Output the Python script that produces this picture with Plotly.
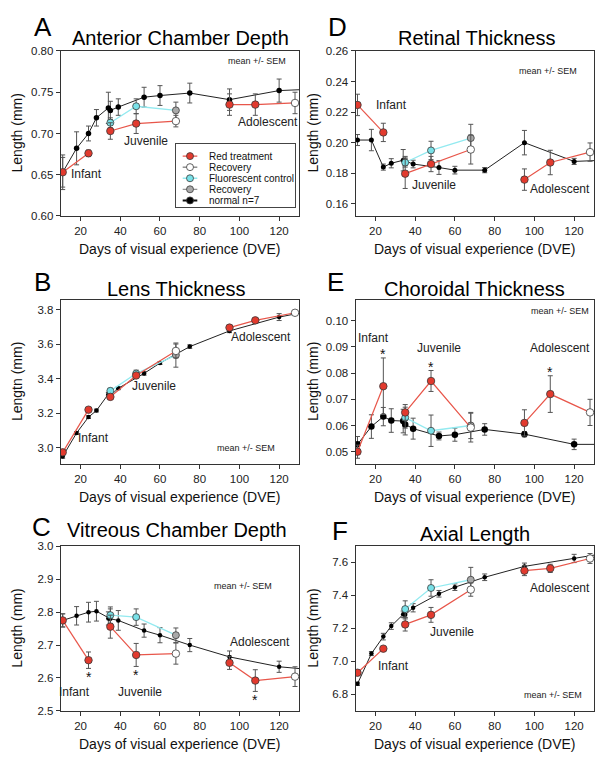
import plotly.graph_objects as go

# ---------------- data ----------------
days_normal = [11, 18, 24, 28, 34, 35, 39, 52, 60, 75, 95, 120, 135]
days_red = [11, 24, 35, 48, 68, 95, 108, 128]
days_fluor = [35, 48, 68]

# A: Anterior chamber depth
acd_normal = [0.653, 0.682, 0.700, 0.719, 0.731, 0.728, 0.732, 0.744, 0.746, 0.749, 0.741, 0.752, 0.7535]
acd_normal_sem = [0.021, 0.020, 0.009, 0.010, 0.019, 0.011, 0.010, 0.012, 0.012, 0.012, 0.013, 0.014, 0.012]
acd_red = [0.653, 0.676, 0.703, 0.712, 0.715, 0.735, 0.735, 0.737]
acd_red_sem = [0.018, 0.004, 0.010, 0.012, 0.007, 0.013, 0.013, 0.013]
acd_fluor = [0.713, 0.733, 0.728]
acd_fluor_sem = [0.006, 0.009, 0.010]

# D: Retinal thickness
rt_normal = [0.2017, 0.2017, 0.184, 0.1865, 0.1885, 0.188, 0.186, 0.1837, 0.182, 0.182, 0.200, 0.1877, 0.1885]
rt_normal_sem = [0.0036, 0.007, 0.002, 0.003, 0.007, 0.003, 0.0025, 0.0045, 0.0025, 0.0017, 0.008, 0.002, 0.002]
rt_red = [0.2247, 0.2067, 0.1797, 0.186, 0.1955, 0.1758, 0.187, 0.1938]
rt_red_sem = [0.007, 0.006, 0.0097, 0.005, 0.0095, 0.007, 0.008, 0.006]
rt_fluor = [0.187, 0.1949, 0.203]
rt_fluor_sem = [0.003, 0.006, 0.009]

# B: Lens thickness
lt_normal = [2.949, 3.085, 3.177, 3.215, 3.31, 3.30, 3.344, 3.43, 3.49, 3.585, 3.676, 3.756, 3.79]
lt_normal_sem = [0.01, 0.008, 0.008, 0.008, 0.01, 0.01, 0.008, 0.01, 0.008, 0.01, 0.01, 0.02, 0.01]
lt_red = [2.973, 3.22, 3.294, 3.418, 3.56, 3.695, 3.737, 3.781]
lt_red_sem = [0.01, 0.01, 0.015, 0.01, 0.04, 0.01, 0.01, 0.01]
lt_fluor = [3.329, 3.429, 3.536]
lt_fluor_sem = [0.015, 0.02, 0.07]

# E: Choroidal thickness
ct_normal = [0.0528, 0.0596, 0.0634, 0.0619, 0.0617, 0.0604, 0.0588, 0.056, 0.0565, 0.0585, 0.0567, 0.0528, 0.0528]
ct_normal_sem = [0.003, 0.0045, 0.0035, 0.0045, 0.0045, 0.004, 0.004, 0.0015, 0.0025, 0.0022, 0.001, 0.002, 0.002]
ct_red = [0.050, 0.075, 0.065, 0.077, 0.0592, 0.061, 0.072, 0.065]
ct_red_sem = [0.0025, 0.0108, 0.003, 0.004, 0.0055, 0.005, 0.007, 0.005]
ct_fluor = [0.063, 0.058, 0.060]
ct_fluor_sem = [0.004, 0.006, 0.005]

# C: Vitreous chamber depth
vcd_normal = [2.775, 2.789, 2.80, 2.803, 2.781, 2.78, 2.775, 2.744, 2.73, 2.70, 2.664, 2.634, 2.626]
vcd_normal_sem = [0.02, 0.028, 0.03, 0.03, 0.02, 0.03, 0.03, 0.02, 0.023, 0.02, 0.018, 0.017, 0.017]
vcd_red = [2.775, 2.654, 2.756, 2.67, 2.674, 2.646, 2.592, 2.604]
vcd_red_sem = [0.02, 0.025, 0.035, 0.035, 0.032, 0.02, 0.033, 0.03]
vcd_fluor = [2.791, 2.785, 2.730]
vcd_fluor_sem = [0.025, 0.025, 0.022]

# F: Axial length
al_normal = [6.864, 7.047, 7.15, 7.214, 7.285, 7.282, 7.325, 7.41, 7.45, 7.51, 7.576, 7.624, 7.654]
al_normal_sem = [0.01, 0.012, 0.02, 0.02, 0.02, 0.025, 0.025, 0.02, 0.02, 0.02, 0.02, 0.025, 0.02]
al_red = [6.931, 7.077, 7.224, 7.282, 7.435, 7.55, 7.564, 7.624]
al_red_sem = [0.015, 0.01, 0.04, 0.045, 0.04, 0.03, 0.025, 0.03]
al_fluor = [7.317, 7.445, 7.495]
al_fluor_sem = [0.05, 0.05, 0.075]

red_segments = [[0, 1], [2, 3, 4], [5, 6, 7]]
red_recovery = [4, 7]
fluor_recovery = [2]
star_idx = [1, 3, 6]

legend_labels = ["Red treatment", "Recovery", "Fluorescent control", "Recovery", "normal n=7"]
stage_labels = ["Infant", "Juvenile", "Adolescent"]
x_ticks = [20, 40, 60, 80, 100, 120]

# ---------------- style ----------------
W, H = 604, 769
FONT = "Arial, Liberation Sans, Helvetica, sans-serif"
RED = "#e23a2e"
RED_LINE = "#e8564a"
CYAN = "#79e1e8"
CYAN_LINE = "#93eaf0"
GRAY = "#a9a9a9"
EDGE = "#3a3a3a"
ERR = "#555555"


def px_x(p):
    return p / W


def px_y(p):
    return 1 - p / H


LEFT = [px_x(60.7), px_x(299)]
RIGHT = [px_x(355.5), px_x(594)]
ROWS = [[px_y(213.3), px_y(45.7)], [px_y(465), px_y(299)], [px_y(716), px_y(549)]]

panels = [
    dict(title="Anterior Chamber Depth", letter="A", ylab="Length (mm)",
         n=acd_normal, ns=acd_normal_sem, r=acd_red, rs=acd_red_sem, f=acd_fluor, fs=acd_fluor_sem,
         yr=[0.60, 0.80], yt=[0.60, 0.65, 0.70, 0.75, 0.80], fmt=".2f", xd=LEFT, yd=ROWS[0], ms=5.5,
         letter_px=(43, 21), title_px=(180, 32),
         labels_px=[(86, 171), (146, 137), (268, 118)], mean_px=(257, 56), stars=None),
    dict(title="Retinal Thickness", letter="D", ylab="Length (mm)",
         n=rt_normal, ns=rt_normal_sem, r=rt_red, rs=rt_red_sem, f=rt_fluor, fs=rt_fluor_sem,
         yr=[0.152, 0.26], yt=[0.16, 0.18, 0.20, 0.22, 0.24, 0.26], fmt=".2f", xd=RIGHT, yd=ROWS[0], ms=5,
         letter_px=(337, 21), title_px=(476, 32),
         labels_px=[(391, 101), (434, 182), (560, 186)], mean_px=(548, 66), stars=None),
    dict(title="Lens Thickness", letter="B", ylab="Lengtn (mm)",
         n=lt_normal, ns=lt_normal_sem, r=lt_red, rs=lt_red_sem, f=lt_fluor, fs=lt_fluor_sem,
         yr=[2.907, 3.853], yt=[3.0, 3.2, 3.4, 3.6, 3.8], fmt=".1f", xd=LEFT, yd=ROWS[1], ms=4.5,
         letter_px=(42, 280), title_px=(176, 287),
         labels_px=[(93, 439), (154, 386), (261, 336)], mean_px=(246, 449), stars=None),
    dict(title="Choroidal Thickness", letter="E", ylab="Length (mm)",
         n=ct_normal, ns=ct_normal_sem, r=ct_red, rs=ct_red_sem, f=ct_fluor, fs=ct_fluor_sem,
         yr=[0.0454, 0.1078], yt=[0.05, 0.06, 0.07, 0.08, 0.09, 0.10], fmt=".2f", xd=RIGHT, yd=ROWS[1], ms=6.5,
         letter_px=(335, 280), title_px=(474, 287),
         labels_px=[(373, 337), (439, 347), (560, 347)], mean_px=(560, 310), stars="above"),
    dict(title="Vitreous Chamber Depth", letter="C", ylab="Length (mm)",
         n=vcd_normal, ns=vcd_normal_sem, r=vcd_red, rs=vcd_red_sem, f=vcd_fluor, fs=vcd_fluor_sem,
         yr=[2.5, 3.0], yt=[2.5, 2.6, 2.7, 2.8, 2.9, 3.0], fmt=".1f", xd=LEFT, yd=ROWS[2], ms=4.5,
         letter_px=(41, 529), title_px=(177, 532),
         labels_px=[(74, 697), (140, 697), (260, 646)], mean_px=(243, 589), stars="below"),
    dict(title="Axial Length", letter="F", ylab="Length (mm)",
         n=al_normal, ns=al_normal_sem, r=al_red, rs=al_red_sem, f=al_fluor, fs=al_fluor_sem,
         yr=[6.70, 7.697], yt=[6.8, 7.0, 7.2, 7.4, 7.6], fmt=".1f", xd=RIGHT, yd=ROWS[2], ms=4.5,
         letter_px=(340, 533), title_px=(475, 536),
         labels_px=[(393, 670), (452, 636), (560, 591)], mean_px=(553, 700), stars=None),
]

fig = go.Figure()
annotations = []
layout = {}


def err(arr, color=ERR):
    return dict(type="data", array=arr, visible=True, color=color, thickness=1, width=2.5)


for i, p in enumerate(panels):
    k = i + 1
    xa = "x" if k == 1 else f"x{k}"
    ya = "y" if k == 1 else f"y{k}"
    xkey = "xaxis" if k == 1 else f"xaxis{k}"
    ykey = "yaxis" if k == 1 else f"yaxis{k}"
    axis_common = dict(showline=True, linecolor="#333", linewidth=1, mirror=True,
                       ticks="outside", ticklen=4, tickcolor="#333", showgrid=False,
                       zeroline=False, tickfont=dict(family=FONT, size=11.5, color="#222"))
    layout[xkey] = dict(domain=p["xd"], anchor=ya, range=[10, 130], tickvals=x_ticks, **axis_common)
    layout[ykey] = dict(domain=p["yd"], anchor=xa, range=p["yr"], tickvals=p["yt"],
                        tickformat=p["fmt"], **axis_common)

    # normal
    fig.add_trace(go.Scatter(x=days_normal, y=p["n"], xaxis=xa, yaxis=ya, mode="lines+markers",
                             line=dict(color="#222", width=1),
                             marker=dict(color="#000", size=p["ms"], line=dict(width=0)),
                             error_y=err(p["ns"]), showlegend=False, cliponaxis=True))
    # fluorescent control
    fcolors = [GRAY if j in fluor_recovery else CYAN for j in range(len(days_fluor))]
    fig.add_trace(go.Scatter(x=days_fluor, y=p["f"], xaxis=xa, yaxis=ya, mode="lines+markers",
                             line=dict(color=CYAN_LINE, width=1.3),
                             marker=dict(color=fcolors, size=7, line=dict(color=EDGE, width=0.8)),
                             error_y=err(p["fs"]), showlegend=False))
    # red treatment segments
    for seg in red_segments:
        xs = [days_red[j] for j in seg]
        ys = [p["r"][j] for j in seg]
        es = [p["rs"][j] for j in seg]
        cols = ["#ffffff" if j in red_recovery else RED for j in seg]
        fig.add_trace(go.Scatter(x=xs, y=ys, xaxis=xa, yaxis=ya, mode="lines+markers",
                                 line=dict(color=RED_LINE, width=1.2),
                                 marker=dict(color=cols, size=7.5, line=dict(color=EDGE, width=0.8)),
                                 error_y=err(es), showlegend=False))
    # asterisks
    if p["stars"]:
        for j in star_idx:
            if p["stars"] == "above":
                annotations.append(dict(x=days_red[j], y=p["r"][j] + p["rs"][j], xref=xa, yref=ya,
                                        text="*", showarrow=False, yanchor="bottom", yshift=-6,
                                        font=dict(family=FONT, size=14, color="#111")))
            else:
                annotations.append(dict(x=days_red[j], y=p["r"][j] - p["rs"][j], xref=xa, yref=ya,
                                        text="*", showarrow=False, yanchor="top", yshift=1,
                                        font=dict(family=FONT, size=14, color="#111")))

    # texts
    lx, ly = p["letter_px"]
    annotations.append(dict(x=px_x(lx), y=px_y(ly), xref="paper", yref="paper", text=p["letter"],
                            showarrow=False, xanchor="center", yanchor="middle",
                            font=dict(family=FONT, size=26, color="#000")))
    tx, ty = p["title_px"]
    annotations.append(dict(x=px_x(tx), y=px_y(ty), xref="paper", yref="paper", text=p["title"],
                            showarrow=False, xanchor="center", yanchor="middle",
                            font=dict(family=FONT, size=20, color="#000")))
    for lab, (sx, sy) in zip(stage_labels, p["labels_px"]):
        annotations.append(dict(x=px_x(sx), y=px_y(sy), xref="paper", yref="paper", text=lab,
                                showarrow=False, xanchor="center", yanchor="middle",
                                font=dict(family=FONT, size=12, color="#222")))
    mx, my = p["mean_px"]
    annotations.append(dict(x=px_x(mx), y=px_y(my), xref="paper", yref="paper", text="mean +/- SEM",
                            showarrow=False, xanchor="center", yanchor="middle",
                            font=dict(family=FONT, size=9, color="#222")))
    # axis titles
    xc = (p["xd"][0] + p["xd"][1]) / 2
    yc = (p["yd"][0] + p["yd"][1]) / 2
    ylab_x = 17 if p["xd"] is LEFT else 313
    annotations.append(dict(x=px_x(ylab_x), y=yc, xref="paper", yref="paper", text=p["ylab"],
                            showarrow=False, textangle=-90, xanchor="center", yanchor="middle",
                            font=dict(family=FONT, size=14, color="#111")))
    bottom_px = (1 - p["yd"][0]) * H
    annotations.append(dict(x=xc, y=px_y(bottom_px + 34), xref="paper", yref="paper",
                            text="Days of visual experience (DVE)", showarrow=False,
                            xanchor="center", yanchor="middle",
                            font=dict(family=FONT, size=14, color="#111")))

# ---------------- legend (panel A) ----------------
leg_rows = [12.5, 23.7, 35.0, 46.2, 57.5]
leg_styles = [
    dict(lc=RED_LINE, lw=1.2, mc=RED),
    dict(lc="#555", lw=1.0, mc="#ffffff"),
    dict(lc=CYAN_LINE, lw=1.3, mc=CYAN),
    dict(lc="#777", lw=1.0, mc=GRAY),
    dict(lc="#111", lw=2.0, mc="#000"),
]
layout["xaxis7"] = dict(domain=[px_x(176), px_x(295)], anchor="y7", range=[0, 119],
                        showline=True, mirror=True, linecolor="#444", linewidth=1,
                        showticklabels=False, ticks="", showgrid=False, zeroline=False, fixedrange=True)
layout["yaxis7"] = dict(domain=[px_y(204), px_y(140)], anchor="x7", range=[64, 0],
                        showline=True, mirror=True, linecolor="#444", linewidth=1,
                        showticklabels=False, ticks="", showgrid=False, zeroline=False, fixedrange=True)
layout["shapes"] = [dict(type="rect", xref="x7", yref="y7", x0=0, x1=119, y0=0, y1=64,
                         fillcolor="white", line=dict(width=0), layer="below")]
for lab, yy, st in zip(legend_labels, leg_rows, leg_styles):
    fig.add_trace(go.Scatter(x=[6.7, 21.3], y=[yy, yy], xaxis="x7", yaxis="y7", mode="lines",
                             line=dict(color=st["lc"], width=st["lw"]), showlegend=False,
                             hoverinfo="skip"))
    fig.add_trace(go.Scatter(x=[14], y=[yy], xaxis="x7", yaxis="y7", mode="markers",
                             marker=dict(color=st["mc"], size=7, line=dict(color=EDGE, width=0.8)),
                             showlegend=False, hoverinfo="skip"))
    annotations.append(dict(x=31, y=yy, xref="x7", yref="y7", text=lab, showarrow=False,
                            xanchor="left", yanchor="middle",
                            font=dict(family=FONT, size=10, color="#111")))

fig.update_layout(
    width=W, height=H, margin=dict(l=0, r=0, t=0, b=0),
    paper_bgcolor="white", plot_bgcolor="white",
    showlegend=False, annotations=annotations, font=dict(family=FONT),
    **layout,
)

fig.write_html(
    "out.html",
    config={"displayModeBar": False},
    post_script="document.body.style.margin='0';document.body.style.padding='0';"
                "document.body.style.overflow='hidden';",
)
